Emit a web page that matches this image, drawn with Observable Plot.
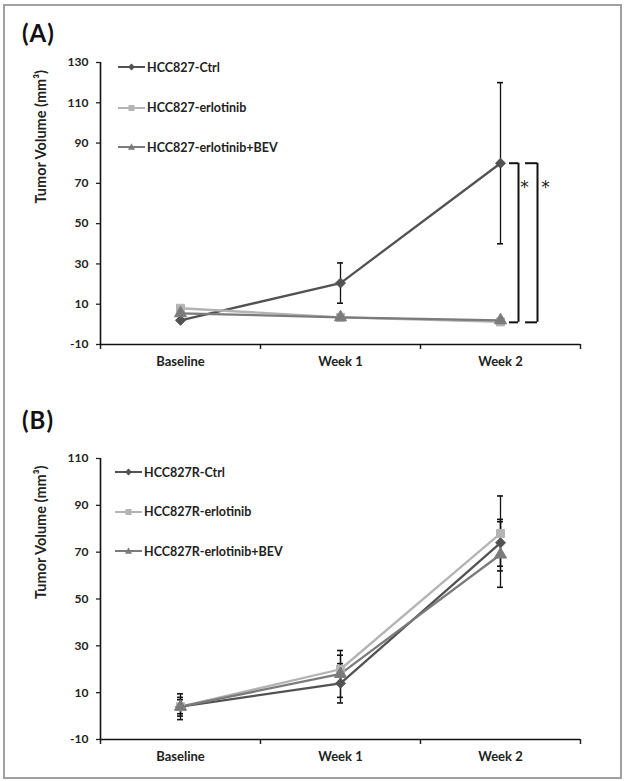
<!DOCTYPE html>
<html>
<head>
<meta charset="utf-8">
<script src="https://cdn.jsdelivr.net/npm/d3@7"></script>
<script src="https://cdn.jsdelivr.net/npm/@observablehq/plot@0.6"></script>
<style>
  body { margin: 0; background: #fff; }
  #page { position: relative; width: 625px; height: 781px; overflow: hidden; font-family: Lato, "DejaVu Sans", sans-serif; background: #fff; }
  #frame { position: absolute; left: 3px; top: 4px; width: 615px; height: 771px; border: 2px solid #a0a0a0; }
  .panel-label { position: absolute; left: 22px; font-weight: 700; font-size: 24px; line-height: 24px; color: #111; letter-spacing: 1px; }
  .chart { position: absolute; left: 0; }
  .legend { position: absolute; font-weight: 700; font-size: 12.5px; color: #222; }
  .legend .row { position: absolute; left: 0; white-space: nowrap; display: flex; align-items: center; height: 12px; }
  .legend svg { display: block; margin-right: 2px; }
</style>
</head>
<body>
<div id="page"><div id="frame"></div></div>
<script>
// ---------- data ----------
const times = ["Baseline", "Week 1", "Week 2"];

const seriesA = ["HCC827-Ctrl", "HCC827-erlotinib", "HCC827-erlotinib+BEV"];
const ctrlA = [2, 20.5, 80];
const ctrlAErr = [0, 10, 40];
const erlA = [8, 3.5, 1.2];
const erlAErr = [0, 0, 0];
const bevA = [5.5, 3.5, 2];
const bevAErr = [0, 0, 0];

const seriesB = ["HCC827R-Ctrl", "HCC827R-erlotinib", "HCC827R-erlotinib+BEV"];
const ctrlB = [4, 14, 74];
const ctrlBErr = [5.5, 8.4, 10];
const erlB = [4, 20, 78];
const erlBErr = [4, 6, 16];
const bevB = [4, 18, 69];
const bevBErr = [3, 10, 14];

const yTicksA = [-10, 10, 30, 50, 70, 90, 110, 130];
const yTicksB = [-10, 10, 30, 50, 70, 90, 110];
const yTitle = "Tumor Volume (mm³)";

// significance bracket in panel A: Week 2, from Ctrl mean to treated means
const sigA = [{time: "Week 2", top: 80, bottom: 1, star: 68, label: "*"}];

// ---------- style ----------
const palette = ["#525252", "#b4b4b4", "#7b7b7b"];
const symbols = ["diamond2", "square", "triangle"];

const page = document.getElementById("page");

function build(series, values, errs, yDomain, yTicks, sig, height, marginBottom) {
  const rows = [];
  series.forEach((s, si) => times.forEach((t, ti) =>
    rows.push({series: s, time: t, value: values[si][ti], err: errs[si][ti]})));
  const xPos = d => times.indexOf(d.time) + 0.5;
  const errRows = rows.filter(d => d.err > 0);

  const marks = [
    Plot.axisY({ticks: yTicks, tickSize: 4, tickPadding: 8, tickFormat: d => String(d), label: null, fontSize: 12, strokeWidth: 1.3}),
    Plot.axisX({ticks: [0, 1, 2, 3], tickSize: 5, tickFormat: () => "", label: null, strokeWidth: 1.5}),
    Plot.axisX({ticks: times.map((t, i) => i + 0.5), tickSize: 0, tickPadding: 12, tickFormat: v => times[Math.floor(v)], label: null, fontSize: 13}),
    Plot.ruleX([0], {stroke: "#111", strokeWidth: 1.6}),
    Plot.ruleY([yDomain[0]], {stroke: "#111", strokeWidth: 1.6}),
    Plot.text([yTitle], {text: d => d, frameAnchor: "left", rotate: -90, dx: -59, fontSize: 14.5, fontWeight: 700, fill: "#222"}),
    // error bars
    Plot.ruleX(errRows, {x: xPos, y1: d => d.value - d.err, y2: d => d.value + d.err, stroke: "#111", strokeWidth: 1.3}),
    Plot.ruleY(errRows, {x1: xPos, x2: xPos, y: d => d.value + d.err, insetLeft: -3, insetRight: -3, stroke: "#111", strokeWidth: 1.6}),
    Plot.ruleY(errRows, {x1: xPos, x2: xPos, y: d => d.value - d.err, insetLeft: -3, insetRight: -3, stroke: "#111", strokeWidth: 1.6}),
    // series
    Plot.line(rows, {x: xPos, y: "value", z: "series", stroke: "series", strokeWidth: 2.3}),
    Plot.dot(rows, {x: xPos, y: "value", symbol: "series", fill: "series", stroke: "series", strokeWidth: 1, r: 4.5})
  ];

  if (sig) {
    const sx = d => times.indexOf(d.time) + 0.5;
    [[9, 18], [25, 37]].forEach(([a, b]) => {
      marks.push(
        Plot.ruleY(sig, {x1: sx, x2: sx, y: "top", dx: a, insetRight: -(b - a), stroke: "#111", strokeWidth: 2}),
        Plot.ruleY(sig, {x1: sx, x2: sx, y: "bottom", dx: a, insetRight: -(b - a), stroke: "#111", strokeWidth: 2}),
        Plot.ruleX(sig, {x: sx, y1: "bottom", y2: "top", dx: b, stroke: "#111", strokeWidth: 2})
      );
    });
    [24, 45].forEach(off => marks.push(
      Plot.text(sig, {x: sx, y: "star", text: "label", dx: off, fontSize: 17, fontWeight: 400, fill: "#222", fontFamily: "DejaVu Sans"})
    ));
  }

  return Plot.plot({
    width: 625,
    height,
    marginLeft: 100,
    marginRight: 45,
    marginTop: 12,
    marginBottom,
    x: {domain: [0, 3]},
    y: {domain: yDomain},
    color: {domain: series, range: palette},
    symbol: {domain: series, range: symbols},
    style: {fontFamily: "Lato, sans-serif", fontWeight: 700, fontSize: "12px", color: "#222", background: "transparent", overflow: "visible"},
    marks
  });
}

function legend(series, left, rowTops) {
  const box = document.createElement("div");
  box.className = "legend";
  box.style.top = "0px";
  box.style.left = left + "px";
  series.forEach((s, i) => {
    const row = document.createElement("div");
    row.className = "row";
    row.style.top = rowTops[i] + "px";
    const c = palette[i];
    let marker;
    if (i === 0) marker = `<path d="M13.5,1.5L17,5L13.5,8.5L10,5Z" fill="${c}"/>`;
    else if (i === 1) marker = `<rect x="10.5" y="2" width="6" height="6" fill="${c}"/>`;
    else marker = `<path d="M13.5,1.2L17,7.8L10,7.8Z" fill="${c}"/>`;
    row.innerHTML = `<svg width="27" height="10" viewBox="0 0 27 10"><line x1="0" y1="5" x2="27" y2="5" stroke="${c}" stroke-width="2"/>${marker}</svg><span>${s}</span>`;
    box.appendChild(row);
  });
  page.appendChild(box);
}

function label(text, top) {
  const d = document.createElement("div");
  d.className = "panel-label";
  d.style.top = top + "px";
  d.textContent = text;
  page.appendChild(d);
}

label("(A)", 21);
const chartA = build(seriesA, [ctrlA, erlA, bevA], [ctrlAErr, erlAErr, bevAErr], [-10, 130], yTicksA, sigA, 334, 40);
chartA.classList.add("chart");
chartA.style.top = "50px";
page.appendChild(chartA);
legend(seriesA, 118, [61, 101.5, 141]);

label("(B)", 408);
const chartB = build(seriesB, [ctrlB, erlB, bevB], [ctrlBErr, erlBErr, bevBErr], [-10, 110], yTicksB, null, 328, 35);
chartB.classList.add("chart");
chartB.style.top = "446px";
page.appendChild(chartB);
legend(seriesB, 115, [466, 505.5, 545]);
</script>
</body>
</html>
